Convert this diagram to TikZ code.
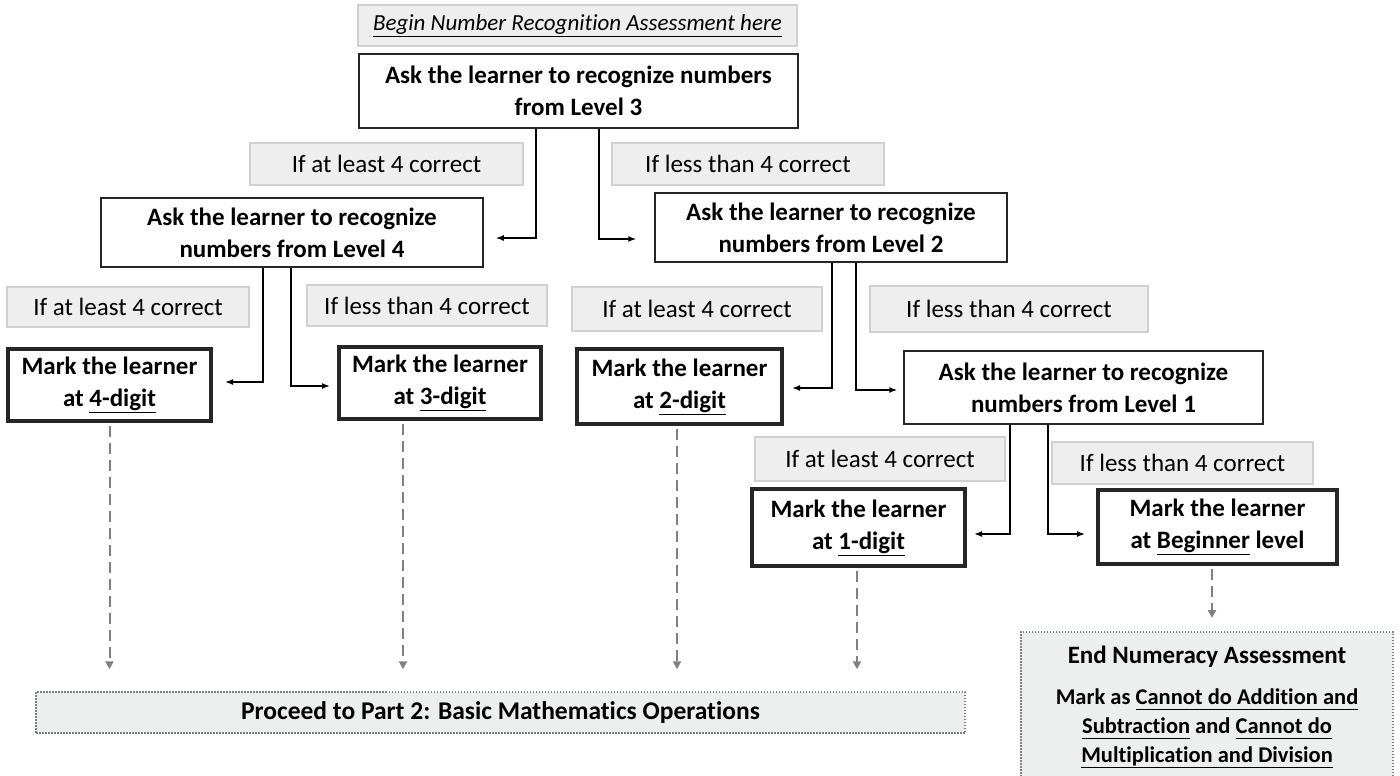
\documentclass[tikz,border=0pt]{standalone}
\usepackage{fontspec}
\setmainfont{Carlito}[Ligatures=NoCommon]
\usetikzlibrary{arrows.meta}

\definecolor{labelgray}{HTML}{EEEEEE}
\definecolor{labelline}{HTML}{D0D0D0}
\definecolor{notegray}{HTML}{EDEEEE}
\definecolor{dashgray}{HTML}{808080}

\newcommand{\undl}[1]{\underline{#1\vphantom{gp}}}

\tikzset{
  askbox/.style={draw=black!85, line width=1.5pt, fill=white, align=center, inner sep=0pt,
    font=\fontsize{25}{32}\selectfont\bfseries},
  markbox/.style={askbox, line width=4pt},
  condbox/.style={draw=labelline, fill=labelgray, line width=1.5pt, inner sep=0pt,
    font=\fontsize{25}{30}\selectfont},
  notebox/.style={draw=dashgray, fill=notegray, line width=1.5pt, dash pattern=on 1.5pt off 1.5pt,
    inner sep=0pt, align=center},
  flow/.style={black, line width=1.5pt, -{Latex[length=8pt,width=6pt]}},
  dashflow/.style={dashgray, line width=2pt, dash pattern=on 11pt off 6pt,
    -{Triangle[length=8pt,width=8pt]}}
}

\begin{document}
\begin{tikzpicture}[x=1pt, y=-1pt]
\useasboundingbox (0,0) rectangle (1400,776);

% start
\node[condbox, minimum width=439pt, minimum height=41pt, font=\fontsize{23}{28}\selectfont\itshape] (start) at (577.5,25.5) {\undl{Begin Number Recognition Assessment here}};
\node[askbox, minimum width=439pt, minimum height=74pt] (lvlthree) at (578.5,91) {Ask the learner to recognize numbers\\from Level 3};

\node[condbox, minimum width=273pt, minimum height=42pt] (upA) at (386.5,164) {If at least 4 correct};
\node[condbox, minimum width=272pt, minimum height=42pt] (downA) at (748,164) {If less than 4 correct};

% level 4 und level 2
\node[askbox, minimum width=382pt, minimum height=69pt] (lvlfour) at (292,232.5) {Ask the learner to recognize\\numbers from Level 4};
\node[askbox, minimum width=352pt, minimum height=69pt] (lvltwo) at (831,227.5) {Ask the learner to recognize\\numbers from Level 2};

\node[condbox, minimum width=242pt, minimum height=40pt] (upB) at (128,307) {If at least 4 correct};
\node[condbox, minimum width=240pt, minimum height=41pt] (downB) at (427,305.5) {If less than 4 correct};
\node[condbox, minimum width=250pt, minimum height=44pt] (upC) at (697,309) {If at least 4 correct};
\node[condbox, minimum width=278pt, minimum height=46pt] (downC) at (1009,309) {If less than 4 correct};

\node[markbox, minimum width=203pt, minimum height=72pt] (digitfour) at (109.5,385) {Mark the learner\\at \undl{4-digit}};
\node[markbox, minimum width=202pt, minimum height=72pt] (digitthree) at (440,383) {Mark the learner\\at \undl{3-digit}};
\node[markbox, minimum width=205pt, minimum height=75pt] (digittwo) at (679.5,386.5) {Mark the learner\\at \undl{2-digit}};

% level 1
\node[askbox, minimum width=359pt, minimum height=73pt] (lvlone) at (1083.5,387.5) {Ask the learner to recognize\\numbers from Level 1};

\node[condbox, minimum width=250pt, minimum height=44pt] (upD) at (880,459) {If at least 4 correct};
\node[condbox, minimum width=261pt, minimum height=42pt] (downD) at (1182.5,463) {If less than 4 correct};

\node[markbox, minimum width=213pt, minimum height=77pt] (digitone) at (858.5,527.5) {Mark the learner\\at \undl{1-digit}};
\node[markbox, minimum width=239pt, minimum height=74pt] (beginner) at (1217.5,527) {Mark the learner\\at \undl{Beginner} level};

% ende
\node[notebox, minimum width=929pt, minimum height=41pt, font=\fontsize{25.5}{30}\selectfont\bfseries] (proceed) at (500.5,712.5) {Proceed to Part 2: Basic Mathematics Operations};
\node[notebox, anchor=north, minimum width=372pt, inner ysep=14pt, font=\fontsize{22.5}{29}\selectfont\bfseries] (finish) at (1207,631)
  {{\fontsize{25}{29}\selectfont End Numeracy Assessment}\\[12pt]
   Mark as \undl{Cannot do Addition and}\\\undl{Subtraction} and \undl{Cannot do}\\\undl{Multiplication and Division}};

\draw[flow, shorten >=12pt] ([xshift=-42.5pt]lvlthree.south) |- ([yshift=-5.5pt]lvlfour.east);
\draw[flow, shorten >=18pt] ([xshift=20.5pt]lvlthree.south) |- ([yshift=-11.5pt]lvltwo.west);
\draw[flow, shorten >=12pt] ([xshift=-29pt]lvlfour.south) |- ([yshift=3pt]digitfour.east);
\draw[flow, shorten >=7pt] ([xshift=-1pt]lvlfour.south) |- ([yshift=-3pt]digitthree.west);
\draw[flow, shorten >=8pt] ([xshift=1pt]lvltwo.south) |- ([yshift=-1.5pt]digittwo.east);
\draw[flow, shorten >=6pt] ([xshift=25pt]lvltwo.south) |- ([yshift=-2.5pt]lvlone.west);
\draw[flow, shorten >=7pt] ([xshift=-73.5pt]lvlone.south) |- ([yshift=-6.5pt]digitone.east);
\draw[flow, shorten >=11pt] ([xshift=-35.5pt]lvlone.south) |- ([yshift=-7pt]beginner.west);

\draw[dashflow, shorten <=3pt, shorten >=22pt] (digitfour.south) -- (digitfour.south |- proceed.north);
\draw[dashflow, shorten <=3pt, shorten >=22pt] ([xshift=-37pt]digitthree.south) -- ([xshift=-37pt]digitthree.south |- proceed.north);
\draw[dashflow, shorten <=3pt, shorten >=22pt] ([xshift=-2.5pt]digittwo.south) -- ([xshift=-2.5pt]digittwo.south |- proceed.north);
\draw[dashflow, shorten <=3pt, shorten >=22pt] ([xshift=-1.5pt]digitone.south) -- ([xshift=-1.5pt]digitone.south |- proceed.north);
\draw[dashflow, shorten <=3pt, shorten >=13pt] ([xshift=-5.5pt]beginner.south) -- ([xshift=-5.5pt]beginner.south |- finish.north);

\end{tikzpicture}
\end{document}
